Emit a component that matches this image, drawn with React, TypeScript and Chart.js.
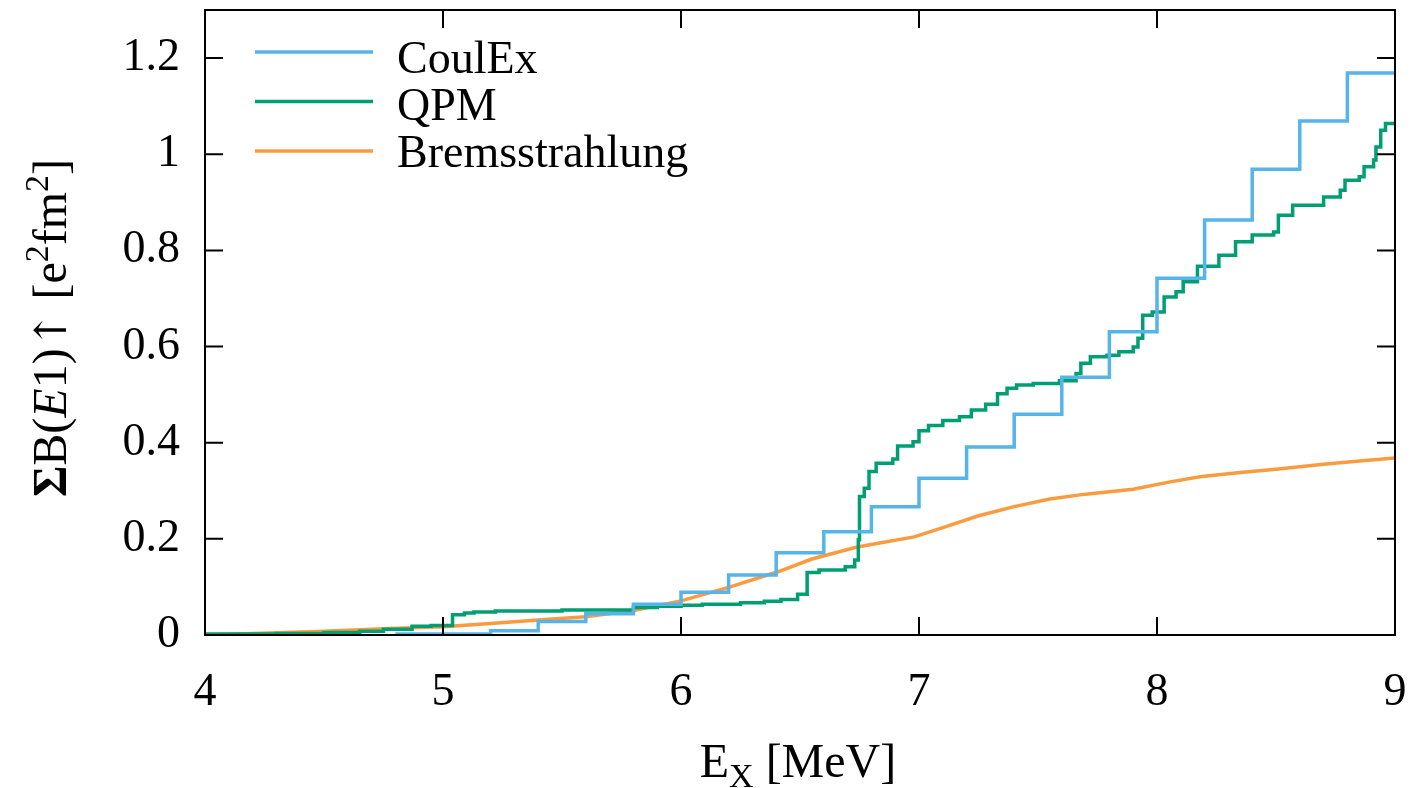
import React, { useEffect, useRef } from "react";
import { Chart, registerables } from "chart.js";

Chart.register(...registerables);

// ---- data ----
const X_TICKS = [4, 5, 6, 7, 8, 9];
const Y_TICKS = [0, 0.2, 0.4, 0.6, 0.8, 1, 1.2];

const COULEX_X = [4.8, 5.2, 5.4, 5.6, 5.8, 6.0, 6.2, 6.4, 6.6, 6.8, 7.0, 7.2, 7.4, 7.6, 7.8, 8.0, 8.2, 8.4, 8.6, 8.8, 9.0];
const COULEX_Y = [0.002, 0.009, 0.028, 0.044, 0.064, 0.089, 0.125, 0.171, 0.215, 0.267, 0.326, 0.391, 0.459, 0.536, 0.631, 0.742, 0.863, 0.969, 1.069, 1.169, 1.169];

const QPM_X = [4.0, 4.3, 4.5, 4.65, 4.75, 4.87, 4.95, 5.04, 5.09, 5.13, 5.22, 5.5, 5.8, 5.9, 6.0, 6.09, 6.25, 6.35, 6.42, 6.49, 6.53, 6.58, 6.69, 6.73, 6.745, 6.75, 6.77, 6.79, 6.82, 6.89, 6.91, 6.975, 7.0, 7.04, 7.1, 7.17, 7.22, 7.28, 7.33, 7.37, 7.41, 7.48, 7.59, 7.66, 7.68, 7.72, 7.79, 7.84, 7.9, 7.92, 7.94, 7.98, 8.03, 8.08, 8.11, 8.17, 8.26, 8.33, 8.4, 8.49, 8.51, 8.57, 8.7, 8.77, 8.79, 8.85, 8.87, 8.91, 8.92, 8.94, 8.96, 9.0];
const QPM_Y = [0.002, 0.003, 0.005, 0.008, 0.012, 0.018, 0.02, 0.042, 0.046, 0.048, 0.05, 0.052, 0.057, 0.06, 0.062, 0.064, 0.067, 0.07, 0.074, 0.085, 0.13, 0.135, 0.142, 0.156, 0.198, 0.288, 0.305, 0.34, 0.357, 0.366, 0.393, 0.402, 0.425, 0.436, 0.446, 0.454, 0.468, 0.48, 0.502, 0.513, 0.52, 0.523, 0.529, 0.544, 0.565, 0.579, 0.582, 0.589, 0.599, 0.617, 0.665, 0.672, 0.703, 0.714, 0.735, 0.767, 0.79, 0.818, 0.832, 0.838, 0.873, 0.894, 0.911, 0.925, 0.946, 0.953, 0.974, 0.988, 1.015, 1.05, 1.064, 1.064];

const BREMS_X = [4.0, 4.2, 4.5, 4.75, 5.0, 5.2, 5.4, 5.6, 5.8, 6.0, 6.2, 6.41, 6.55, 6.74, 6.98, 7.11, 7.25, 7.4, 7.55, 7.7, 7.9, 8.05, 8.18, 8.35, 8.5, 8.7, 8.85, 9.0];
const BREMS_Y = [0.0, 0.003, 0.008, 0.013, 0.017, 0.024, 0.031, 0.038, 0.051, 0.071, 0.099, 0.132, 0.158, 0.183, 0.204, 0.225, 0.248, 0.267, 0.283, 0.293, 0.303, 0.318, 0.329, 0.338, 0.345, 0.355, 0.362, 0.368];

const SERIES_NAMES = ["CoulEx", "QPM", "Bremsstrahlung"];
const SERIES_COLORS = ["#56B4E9", "#009E73", "#F99B3E"];

const FONT = "'Liberation Serif', 'Times New Roman', serif";

const toPts = (xs: number[], ys: number[]) => xs.map((x, i) => ({ x, y: ys[i] }));

const zeroPad = (s: any) => {
  s.paddingTop = 0;
  s.paddingBottom = 0;
  s.paddingLeft = 0;
  s.paddingRight = 0;
};

const decorPlugin = {
  id: "decor",
  afterDatasetsDraw(chart: any) {
    const { ctx, chartArea: a, scales } = chart;
    const xs = scales.x;
    const ys = scales.y;
    ctx.save();
    ctx.strokeStyle = "#000";
    ctx.lineWidth = 2;
    ctx.strokeRect(a.left, a.top, a.right - a.left, a.bottom - a.top);
    const tl = 18;
    ctx.beginPath();
    X_TICKS.forEach((v) => {
      const px = xs.getPixelForValue(v);
      ctx.moveTo(px, a.bottom);
      ctx.lineTo(px, a.bottom - tl);
      ctx.moveTo(px, a.top);
      ctx.lineTo(px, a.top + tl);
    });
    Y_TICKS.forEach((v) => {
      const py = ys.getPixelForValue(v);
      ctx.moveTo(a.left, py);
      ctx.lineTo(a.left + tl, py);
      ctx.moveTo(a.right, py);
      ctx.lineTo(a.right - tl, py);
    });
    ctx.stroke();

    // legend
    chart.data.datasets.forEach((ds: any, i: number) => {
      const ly = 52 + i * 49.5;
      ctx.strokeStyle = ds.borderColor;
      ctx.lineWidth = 3.5;
      ctx.beginPath();
      ctx.moveTo(255, ly);
      ctx.lineTo(373, ly);
      ctx.stroke();
      ctx.fillStyle = "#000";
      ctx.font = `46px ${FONT}`;
      ctx.textAlign = "left";
      ctx.textBaseline = "alphabetic";
      ctx.fillText(ds.label, 397, 73 + i * 47);
    });

    // x title
    ctx.fillStyle = "#000";
    ctx.textBaseline = "alphabetic";
    const xr = [
      { t: "E", f: `48px ${FONT}`, dy: 0 },
      { t: "X", f: `34px ${FONT}`, dy: 10 },
      { t: " [MeV]", f: `48px ${FONT}`, dy: 0 },
    ];
    let w = 0;
    xr.forEach((r) => { ctx.font = r.f; w += ctx.measureText(r.t).width; });
    let cx = 798 - w / 2;
    xr.forEach((r) => { ctx.font = r.f; ctx.fillText(r.t, cx, 777 + r.dy); cx += ctx.measureText(r.t).width; });

    // y title (rotated)
    ctx.translate(50, 328);
    ctx.rotate(-Math.PI / 2);
    const yr = [
      { t: "\u03A3", f: `bold 48px ${FONT}`, dy: 0 },
      { t: "B(", f: `48px ${FONT}`, dy: 0 },
      { t: "E", f: `italic 48px ${FONT}`, dy: 0 },
      { t: "1)", f: `48px ${FONT}`, dy: 0 },
      { t: "\u2191", f: `44px 'DejaVu Serif', ${FONT}`, dy: 0 },
      { t: " [e", f: `48px ${FONT}`, dy: 0 },
      { t: "2", f: `34px ${FONT}`, dy: -18 },
      { t: "fm", f: `48px ${FONT}`, dy: 0 },
      { t: "2", f: `34px ${FONT}`, dy: -18 },
      { t: "]", f: `48px ${FONT}`, dy: 0 },
    ];
    w = 0;
    yr.forEach((r) => { ctx.font = r.f; w += ctx.measureText(r.t).width; });
    cx = -w / 2;
    yr.forEach((r) => { ctx.font = r.f; ctx.fillText(r.t, cx, 16 + r.dy); cx += ctx.measureText(r.t).width; });
    ctx.restore();
  },
};

export default function App() {
  const ref = useRef<HTMLCanvasElement>(null);
  useEffect(() => {
    if (!ref.current) return;
    const chart = new Chart(ref.current, {
      type: "line",
      data: {
        datasets: [
          { label: SERIES_NAMES[0], data: toPts(COULEX_X, COULEX_Y), borderColor: SERIES_COLORS[0], borderWidth: 3.5, pointRadius: 0, stepped: true, fill: false },
          { label: SERIES_NAMES[1], data: toPts(QPM_X, QPM_Y), borderColor: SERIES_COLORS[1], borderWidth: 3.5, pointRadius: 0, stepped: true, fill: false },
          { label: SERIES_NAMES[2], data: toPts(BREMS_X, BREMS_Y), borderColor: SERIES_COLORS[2], borderWidth: 3.5, pointRadius: 0, tension: 0, fill: false },
        ],
      },
      options: {
        animation: false,
        responsive: true,
        maintainAspectRatio: false,
        layout: { padding: { left: 0, right: 15, top: 10, bottom: 0 } },
        plugins: { legend: { display: false }, tooltip: { enabled: false } },
        scales: {
          x: {
            type: "linear",
            min: 4,
            max: 9,
            grid: { display: false, drawTicks: false },
            border: { display: false },
            afterBuildTicks: (s: any) => { s.ticks = X_TICKS.map((v) => ({ value: v })); },
            afterFit: (s: any) => { s.height = 153; zeroPad(s); },
            ticks: { color: "#000", font: { family: FONT, size: 46 }, padding: 30, maxRotation: 0, callback: (v: any) => String(v) },
          },
          y: {
            type: "linear",
            min: 0,
            max: 1.3,
            grid: { display: false, drawTicks: false },
            border: { display: false },
            afterBuildTicks: (s: any) => { s.ticks = Y_TICKS.map((v) => ({ value: v })); },
            afterFit: (s: any) => { s.width = 205; zeroPad(s); },
            ticks: { color: "#000", font: { family: FONT, size: 46 }, padding: 25, callback: (v: any) => String(Math.round(v * 10) / 10) },
          },
        },
      },
      plugins: [decorPlugin],
    });
    return () => chart.destroy();
  }, []);
  return (
    <div style={{ position: "absolute", left: 0, top: 0, width: 1410, height: 788, background: "#fff" }}>
      <canvas ref={ref} />
    </div>
  );
}
